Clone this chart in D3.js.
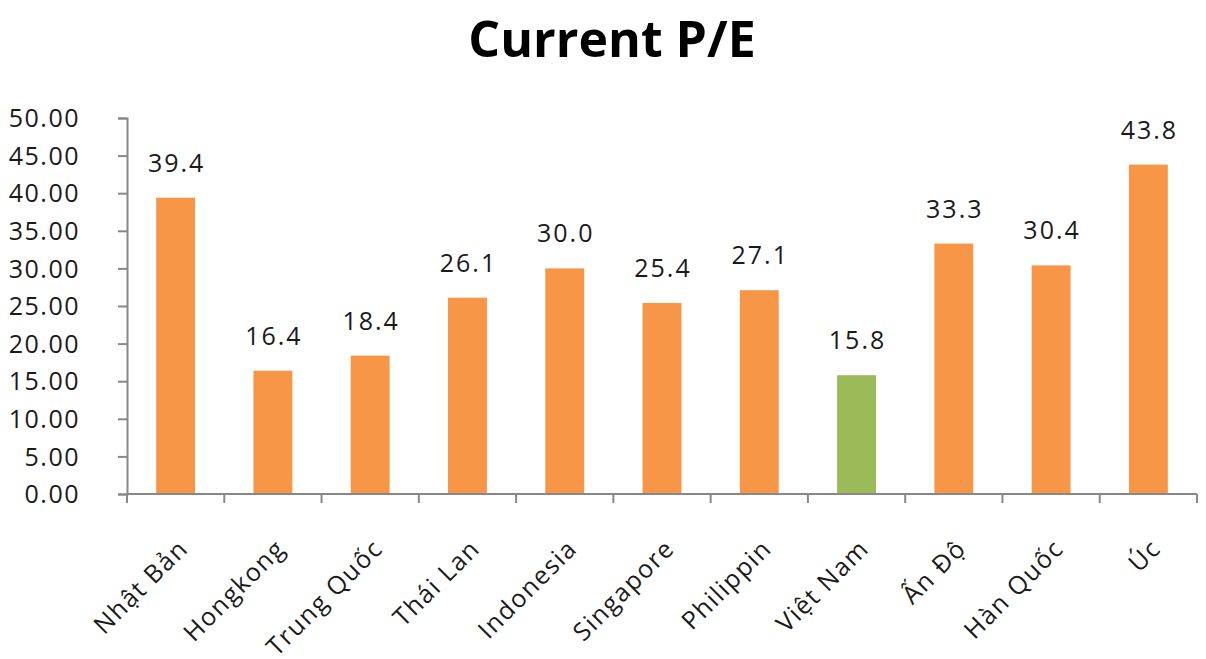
<!DOCTYPE html>
<html>
<head>
<meta charset="utf-8">
<title>Current P/E</title>
<script src="https://cdn.jsdelivr.net/npm/d3@7"></script>
<style>
  body { margin: 0; background: #fff; }
  text { font-family: 'Open Sans', 'Noto Sans', sans-serif; fill: #1a1a1a; }
</style>
</head>
<body>
<svg width="1206" height="659"></svg>
<script>
// data
const countries = ['Nhật Bản', 'Hongkong', 'Trung Quốc', 'Thái Lan', 'Indonesia', 'Singapore',
                   'Philippin', 'Việt Nam', 'Ấn Độ', 'Hàn Quốc', 'Úc']
const peValues = [39.4, 16.4, 18.4, 26.1, 30.0, 25.4, 27.1, 15.8, 33.3, 30.4, 43.8]
const yTicks = [0, 5, 10, 15, 20, 25, 30, 35, 40, 45, 50]
const highlight = 'Việt Nam'

const svg = d3.select('svg')
const margin = {top: 118, right: 9, bottom: 165, left: 127}
const innerWidth = +svg.attr('width') - margin.left - margin.right
const innerHeight = +svg.attr('height') - margin.top - margin.bottom
const g = svg.append('g').attr('transform', `translate(${margin.left}, ${margin.top})`)

const data = countries.map((c, i) => ({country: c, value: peValues[i]}))

const x = d3.scaleBand().domain(countries).range([0, innerWidth]).paddingInner(0.6).paddingOuter(0.3)
const xEdges = d3.scaleBand().domain(countries).range([0, innerWidth])
const y = d3.scaleLinear().domain([0, 50]).range([innerHeight, 0])

svg.append('text')
    .attr('x', 612).attr('y', 57)
    .attr('text-anchor', 'middle')
    .attr('font-size', 50).attr('font-weight', 'bold')
    .style('fill', '#000')
    .text('Current P/E')

g.selectAll('rect')
    .data(data)
    .join('rect')
    .attr('x', d => x(d.country))
    .attr('y', d => y(d.value))
    .attr('width', x.bandwidth())
    .attr('height', d => innerHeight - y(d.value))
    .attr('fill', d => d.country === highlight ? '#9BBB59' : '#F79646')

g.selectAll('.val')
    .data(data)
    .join('text')
    .attr('class', 'val')
    .attr('x', d => x(d.country) + x.bandwidth() / 2 + 1)
    .attr('y', d => y(d.value) - 26)
    .attr('text-anchor', 'middle')
    .attr('font-size', 25)
    .attr('letter-spacing', 2)
    .text(d => d.value.toFixed(1))

// y axis
const yAxis = g.append('g').call(d3.axisLeft(y).tickValues(yTicks).tickFormat(d3.format('.2f')).tickSize(9).tickPadding(38))
yAxis.selectAll('text').attr('font-size', 25).attr('letter-spacing', 1.5).style('fill', '#1a1a1a').attr('dy', '0.35em')
yAxis.selectAll('line, path').attr('stroke', '#888').attr('stroke-width', 2)

// x axis: ticks at band edges like the original
const xAxis = g.append('g').attr('transform', `translate(0, ${innerHeight})`)
xAxis.append('line').attr('x1', 0).attr('x2', innerWidth).attr('stroke', '#888').attr('stroke-width', 2)
xAxis.selectAll('.edge')
    .data(countries.concat(['end']))
    .join('line')
    .attr('class', 'edge')
    .attr('x1', (d, i) => i * xEdges.step()).attr('x2', (d, i) => i * xEdges.step())
    .attr('y1', 0).attr('y2', 9)
    .attr('stroke', '#888').attr('stroke-width', 2)
xAxis.selectAll('.lbl')
    .data(countries)
    .join('text')
    .attr('class', 'lbl')
    .attr('transform', d => `translate(${x(d) + x.bandwidth() / 2 + 14}, 56) rotate(-45)`)
    .attr('text-anchor', 'end')
    .attr('font-size', 25)
    .attr('letter-spacing', 1.5)
    .text(d => d)
</script>
</body>
</html>
